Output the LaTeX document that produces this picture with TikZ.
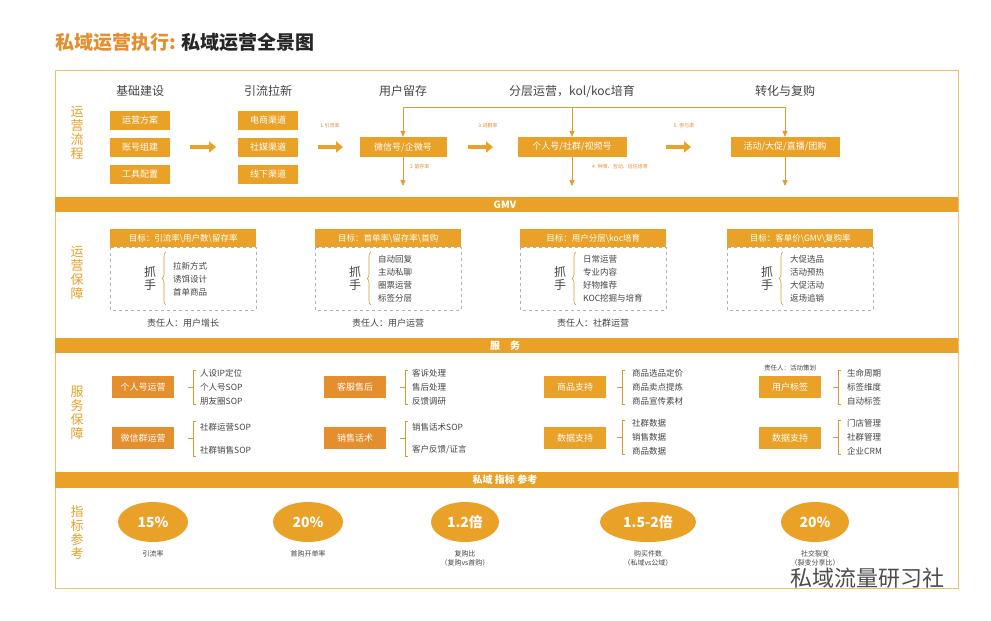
\documentclass[tikz,border=0pt]{standalone}
\usepackage{fontspec}
\setmainfont{Noto Sans CJK SC}
\usetikzlibrary{arrows.meta,decorations.pathreplacing,shapes.geometric}
\definecolor{org}{HTML}{E9A128}
\definecolor{dorg}{HTML}{E48E2E}
\definecolor{txt}{HTML}{444444}
\tikzset{
  every node/.style={text=txt,inner sep=0pt},
  fbox/.style={fill=org,text=white,minimum height=19pt,font=\fontsize{9}{10}\selectfont},
  hdr/.style={font=\fontsize{12}{13}\selectfont},
  band/.style={fill=org},
  bandtxt/.style={text=white,font=\bfseries\fontsize{10}{11}\selectfont},
  side/.style={text=org,font=\fontsize{13}{14}\selectfont,align=center},
  bigarr/.style={org,line width=4pt,-{Triangle[length=7pt,width=11pt]}},
  thinarr/.style={org!80!brown,line width=0.7pt,-{Triangle[length=6pt,width=5pt]}},
  tiny/.style={text=dorg,font=\fontsize{5}{6}\selectfont},
  lst/.style={anchor=west,font=\fontsize{8.5}{10}\selectfont},
  card/.style={draw=gray!60,dashed,line width=0.4pt},
  chead/.style={fill=org,text=white,font=\fontsize{8.5}{10}\selectfont},
  brk/.style={draw=org!70!brown,line width=0.6pt},
  sbox/.style={fill=dorg,text=white,minimum width=62pt,minimum height=22pt,font=\fontsize{9}{10}\selectfont},
  circ/.style={ellipse,fill=org,text=white,font=\bfseries\fontsize{14}{15}\selectfont},
  clab/.style={font=\fontsize{7}{9}\selectfont,align=center,anchor=north},
}
\begin{document}
\begin{tikzpicture}[x=1pt,y=-1pt]
\useasboundingbox (0,0) rectangle (991,621);
\fill[white] (0,0) rectangle (991,621);
\node[anchor=west,text=dorg,font=\bfseries\fontsize{19}{20}\selectfont] (title) at (55,42) {私域运营执行: \textcolor{black!85}{私域运营全景图}};
\draw[org!70,line width=0.8pt] (55,70) rectangle (958,588);
% bands
\fill[band] (55,197) rectangle (958,212); \node[bandtxt] (b1) at (505,204.5) {GMV};
\fill[band] (55,338) rectangle (958,353); \node[bandtxt] (b2) at (505,345.5) {服\quad 务};
\fill[band] (55,472) rectangle (958,488); \node[bandtxt] (b3) at (505,480) {私域 指标 参考};
% side labels
\node[side] (s1) at (77,133) {运\\营\\流\\程};
\node[side] (s2) at (77,273) {运\\营\\保\\障};
\node[side] (s3) at (77,413) {服\\务\\保\\障};
\node[side] (s4) at (77,533) {指\\标\\参\\考};
% section 1
\node[hdr] (h1) at (140,91) {基础建设};
\node[hdr] (h2) at (268,91) {引流拉新};
\node[hdr] (h3) at (403,91) {用户留存};
\node[hdr] (h4) at (572,91) {分层运营，kol/koc培育};
\node[hdr] (h5) at (785,91) {转化与复购};
\node[fbox,minimum width=60pt] (a1) at (140,120) {运营方案};
\node[fbox,minimum width=60pt] (a2) at (140,147) {账号组建};
\node[fbox,minimum width=60pt] (a3) at (140,174) {工具配置};
\node[fbox,minimum width=60pt] (c1) at (268,120) {电商渠道};
\node[fbox,minimum width=60pt] (c2) at (268,147) {社媒渠道};
\node[fbox,minimum width=60pt] (c3) at (268,174) {线下渠道};
\node[fbox,minimum width=87pt,minimum height=20pt] (w) at (403,147) {微信号/企微号};
\node[fbox,minimum width=109pt,minimum height=20pt] (g) at (572,147) {个人号/社群/视频号};
\node[fbox,minimum width=109pt,minimum height=20pt] (h) at (785,147) {活动/大促/直播/团购};
\coordinate (p1) at (190,147); \coordinate (p2) at (216,147);
\coordinate (p3) at (318,147); \coordinate (p4) at (343,147);
\coordinate (p5) at (468,147); \coordinate (p6) at (493,147);
\coordinate (p7) at (666,147); \coordinate (p8) at (691,147);
\draw[bigarr] (p1) -- (p2); \draw[bigarr] (p3) -- (p4);
\draw[bigarr] (p5) -- (p6); \draw[bigarr] (p7) -- (p8);
\coordinate (t1) at (403,107); \coordinate (t2) at (572,107); \coordinate (t3) at (785,107);
\draw[org!80!brown,line width=0.7pt] (t1) -- (t3);
\draw[thinarr] (t1) -- (w.north); \draw[thinarr] (t2) -- (g.north); \draw[thinarr] (t3) -- (h.north);
\coordinate (d1) at (403,186); \coordinate (d2) at (572,186); \coordinate (d3) at (785,186);
\draw[thinarr] (w.south) -- (d1); \draw[thinarr] (g.south) -- (d2); \draw[thinarr] (h.south) -- (d3);
\node[tiny] (l1) at (330,126) {1.引流率};
\node[tiny,anchor=west] (l2) at (410,167) {2.留存率};
\node[tiny] (l3) at (488,126) {3.进群率};
\node[tiny,anchor=west] (l4) at (592,167) {4. 种草、互动、信任培育};
\node[tiny] (l5) at (684,126) {5. 参与率};
% section 2 cards
\foreach \x/\g/\own [count=\i] in {
 110/{目标：引流率\textbackslash 用户数\textbackslash 留存率}/{责任人：用户增长},
 315/{目标：首单率\textbackslash 留存率\textbackslash 首购}/{责任人：用户运营},
 520/{目标：用户分层\textbackslash koc培育}/{责任人：社群运营},
 727/{目标：客单价\textbackslash GMV\textbackslash 复购率}/{}}{
  \draw[card] (\x,247) rectangle (\x+146,310);
  \node[chead,minimum width=146pt,minimum height=18pt,anchor=north west] (ch\i) at (\x,229) {\g};
  \node[font=\fontsize{9}{10}\selectfont] (own\i) at (\x+73,323) {\own};
  \node[font=\fontsize{12}{13.5}\selectfont,align=center] (zs\i) at (\x+40,278.5) {抓\\手};
  \draw[brk,decorate,decoration={brace,amplitude=4pt,mirror}] (\x+56,252) -- (\x+56,305);
}
\foreach \t [count=\j] in {拉新方式,诱饵设计,首单商品} \node[lst] (k1\j) at (173,253+13*\j) {\t};
\foreach \t [count=\j] in {自动回复,主动私聊,圈票运营,标签分层} \node[lst] (k2\j) at (378,246.5+13*\j) {\t};
\foreach \t [count=\j] in {日常运营,专业内容,好物推荐,KOC挖掘与培育} \node[lst] (k3\j) at (583,246.5+13*\j) {\t};
\foreach \t [count=\j] in {大促选品,活动预热,大促活动,返场追销} \node[lst] (k4\j) at (790,246.5+13*\j) {\t};
% section 3
\node[sbox] (e1) at (143,387) {个人号运营};
\node[sbox] (e2) at (143,438) {微信群运营};
\node[sbox] (e3) at (355,387) {客服售后};
\node[sbox] (e4) at (355,438) {销售话术};
\node[sbox,fill=org] (e5) at (575,387) {商品支持};
\node[sbox,fill=org] (e6) at (575,438) {数据支持};
\node[sbox,fill=org] (e7) at (790,387) {用户标签};
\node[sbox,fill=org] (e8) at (790,438) {数据支持};
\node[font=\fontsize{6.5}{7}\selectfont] (own5) at (790,368) {责任人：活动策划};
\foreach \bx/\by/\lx/\items [count=\n] in {
  193/387/200/{人设IP定位,个人号SOP,朋友圈SOP},
  405/387/412/{客诉处理,售后处理,反馈调研},
  622/387/632/{商品选品定价,商品卖点提炼,商品宣传素材},
  622/437/632/{社群数据,销售数据,商品数据},
  838/387/847/{生命周期,标签维度,自动标签},
  838/437/847/{门店管理,社群管理,企业CRM}}{
  \draw[brk] (\bx+3,\by-17) -- (\bx,\by-17) -- (\bx,\by+17) -- (\bx+3,\by+17);
  \draw[brk] (\bx-5,\by) -- (\bx,\by);
  \foreach \t [count=\j] in \items \node[lst] (m\n\j) at (\lx,\by-28+14*\j) {\t};
}
\draw[brk] (196,421) -- (193,421) -- (193,456) -- (196,456); \draw[brk] (188,438) -- (193,438);
\node[lst] (q1a) at (200,427) {社群运营SOP};
\node[lst] (q1b) at (200,450) {社群销售SOP};
\draw[brk] (408,421) -- (405,421) -- (405,456) -- (408,456); \draw[brk] (400,438) -- (405,438);
\node[lst] (q2a) at (412,427) {销售话术SOP};
\node[lst] (q2b) at (412,450) {客户反馈/证言};
% section 4
\node[circ,minimum width=70pt,minimum height=40pt] (o1) at (153,522) {15\%};
\node[circ,minimum width=70pt,minimum height=40pt] (o2) at (308,522) {20\%};
\node[circ,minimum width=68pt,minimum height=40pt] (o3) at (465,522) {1.2倍};
\node[circ,minimum width=96pt,minimum height=40pt] (o4) at (648,522) {1.5-2倍};
\node[circ,minimum width=68pt,minimum height=40pt] (o5) at (815,522) {20\%};
\node[clab] (n1) at (153,550) {引流率};
\node[clab] (n2) at (308,550) {首购开单率};
\node[clab] (n3) at (465,550) {复购比\\（复购vs首购）};
\node[clab] (n4) at (648,550) {购买件数\\（私域vs公域）};
\node[clab] (n5) at (815,550) {社交裂变\\（裂变分享比）};
\node[anchor=west,text=black!70,font=\fontsize{22}{23}\selectfont] (wm) at (790,578) {私域流量研习社};
\end{tikzpicture}
\end{document}
